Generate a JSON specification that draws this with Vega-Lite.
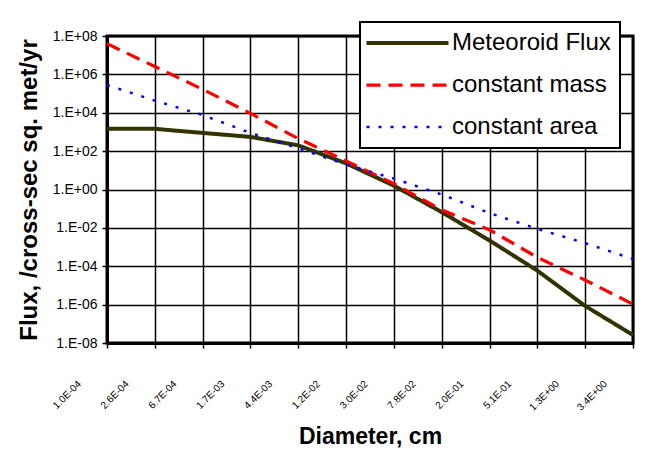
{
  "$schema": "https://vega.github.io/schema/vega-lite/v6.json",
  "width": 526,
  "height": 307,
  "autosize": {"type": "none"},
  "padding": {"left": 107, "top": 36, "right": 32, "bottom": 113},
  "background": "white",
  "config": {"view": {"stroke": "black", "strokeWidth": 3}, "font": "Liberation Sans"},
  "data": {"values": [
    {"d": "1.0E-04", "s": "Meteoroid Flux", "v": 1.45e3},
    {"d": "2.6E-04", "s": "Meteoroid Flux", "v": 1.45e3},
    {"d": "6.7E-04", "s": "Meteoroid Flux", "v": 8.9e2},
    {"d": "1.7E-03", "s": "Meteoroid Flux", "v": 5.5e2},
    {"d": "4.4E-03", "s": "Meteoroid Flux", "v": 2.0e2},
    {"d": "1.2E-02", "s": "Meteoroid Flux", "v": 2.3e1},
    {"d": "3.0E-02", "s": "Meteoroid Flux", "v": 1.58},
    {"d": "7.8E-02", "s": "Meteoroid Flux", "v": 6.6e-2},
    {"d": "2.0E-01", "s": "Meteoroid Flux", "v": 2.2e-3},
    {"d": "5.1E-01", "s": "Meteoroid Flux", "v": 5.9e-5},
    {"d": "1.3E+00", "s": "Meteoroid Flux", "v": 8.5e-7},
    {"d": "3.4E+00", "s": "Meteoroid Flux", "v": 2.6e-8},
    {"d": "1.0E-04", "s": "constant mass", "v": 4.0e7},
    {"d": "2.6E-04", "s": "constant mass", "v": 2.57e6},
    {"d": "6.7E-04", "s": "constant mass", "v": 1.66e5},
    {"d": "1.7E-03", "s": "constant mass", "v": 9.3e3},
    {"d": "4.4E-03", "s": "constant mass", "v": 4.5e2},
    {"d": "1.2E-02", "s": "constant mass", "v": 3.1e1},
    {"d": "3.0E-02", "s": "constant mass", "v": 2.0},
    {"d": "7.8E-02", "s": "constant mass", "v": 8.7e-2},
    {"d": "2.0E-01", "s": "constant mass", "v": 7.9e-3},
    {"d": "5.1E-01", "s": "constant mass", "v": 2.9e-4},
    {"d": "1.3E+00", "s": "constant mass", "v": 1.9e-5},
    {"d": "3.4E+00", "s": "constant mass", "v": 1.05e-6},
    {"d": "1.0E-04", "s": "constant area", "v": 2.8e5},
    {"d": "2.6E-04", "s": "constant area", "v": 4.3e4},
    {"d": "6.7E-04", "s": "constant area", "v": 7.6e3},
    {"d": "1.7E-03", "s": "constant area", "v": 8.9e2},
    {"d": "4.4E-03", "s": "constant area", "v": 1.4e2},
    {"d": "1.2E-02", "s": "constant area", "v": 2.0e1},
    {"d": "3.0E-02", "s": "constant area", "v": 3.7},
    {"d": "7.8E-02", "s": "constant area", "v": 5.5e-1},
    {"d": "2.0E-01", "s": "constant area", "v": 5.9e-2},
    {"d": "5.1E-01", "s": "constant area", "v": 8.9e-3},
    {"d": "1.3E+00", "s": "constant area", "v": 1.6e-3},
    {"d": "3.4E+00", "s": "constant area", "v": 2.4e-4}
  ]},
  "mark": {"type": "line", "strokeCap": "butt"},
  "encoding": {
    "x": {
      "field": "d", "type": "ordinal", "sort": null,
      "scale": {"type": "point", "padding": 0},
      "axis": {
        "title": "Diameter, cm", "titleFont": "Liberation Sans", "titleFontSize": 23, "titleFontWeight": "bold",
        "titleColor": "black", "titleBaseline": "alphabetic", "titleY": 100, "titleX": 263, "titleAlign": "center",
        "labelAngle": -45, "labelAlign": "right", "labelBaseline": "middle", "labelFontSize": 10,
        "labelFont": "Liberation Sans", "labelColor": "black", "labelOffset": -28, "labelPadding": 34,
        "labelOverlap": false, "labelFlush": false,
        "tickColor": "black", "tickSize": 5, "tickWidth": 1.5,
        "domainColor": "black", "domainWidth": 3,
        "grid": true, "gridColor": "black", "gridWidth": 1.5, "gridOpacity": 1
      }
    },
    "y": {
      "field": "v", "type": "quantitative",
      "scale": {"type": "log", "domain": [1e-8, 1e8], "nice": false},
      "axis": {
        "title": "Flux, /cross-sec sq. met/yr", "titleFont": "Liberation Sans", "titleFontSize": 24, "titleFontWeight": "bold",
        "titleColor": "black", "titleBaseline": "alphabetic", "titleX": -71, "titleY": 153.5, "titleAngle": -90, "titleAlign": "center",
        "values": [1e-8, 1e-6, 1e-4, 1e-2, 1, 1e2, 1e4, 1e6, 1e8],
        "labelExpr": "'1.E' + (datum.value >= 1 ? '+' : '-') + (abs(round(log(datum.value)/LN10)) < 10 ? '0' : '') + abs(round(log(datum.value)/LN10))",
        "labelFontSize": 14, "labelFont": "Liberation Sans", "labelColor": "black", "labelPadding": 5,
        "labelOverlap": false, "labelFlush": false,
        "tickColor": "black", "tickSize": 5, "tickWidth": 1.5,
        "domainColor": "black", "domainWidth": 3,
        "grid": true, "gridColor": "black", "gridWidth": 1.5, "gridOpacity": 1
      }
    },
    "color": {
      "field": "s", "type": "nominal",
      "scale": {"domain": ["Meteoroid Flux", "constant mass", "constant area"], "range": ["#333300", "#ff0000", "#0000ff"]},
      "legend": {
        "orient": "none", "legendX": 253, "legendY": -14, "title": null,
        "symbolType": "M-1.45,0H6.75", "symbolSize": 400,
        "labelFontSize": 24, "labelFont": "Liberation Sans", "labelColor": "black", "labelOffset": 59, "labelLimit": 400,
        "rowPadding": 18, "padding": 9, "strokeColor": "black", "fillColor": "white",
        "encode": {"legend": {"update": {"strokeWidth": {"value": 2}}}}
      }
    },
    "strokeDash": {
      "field": "s", "type": "nominal",
      "scale": {"domain": ["Meteoroid Flux", "constant mass", "constant area"], "range": [[1, 0], [14, 8], [3, 9]]}
    },
    "strokeWidth": {
      "field": "s", "type": "nominal",
      "scale": {"domain": ["Meteoroid Flux", "constant mass", "constant area"], "range": [4, 2.5, 2.5]}
    }
  }
}
